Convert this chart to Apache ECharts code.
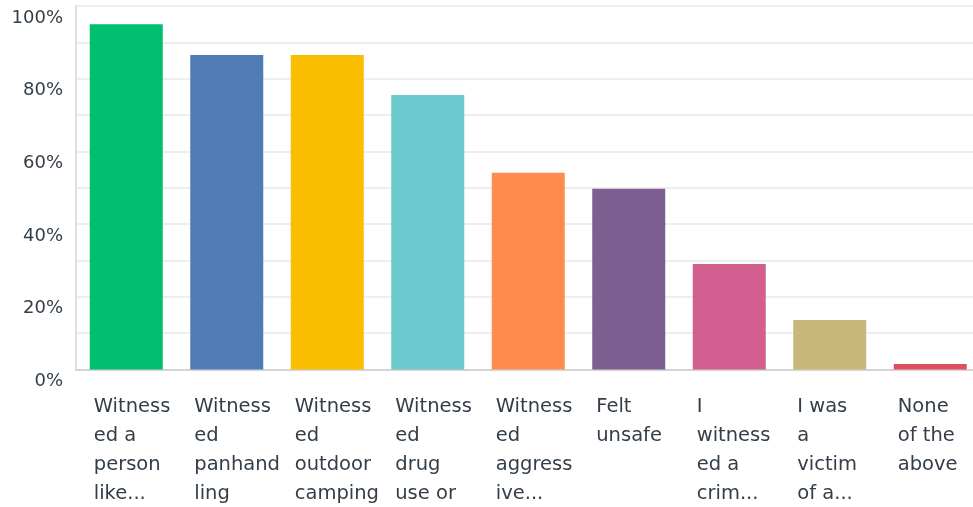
<!DOCTYPE html>
<html>
<head>
<meta charset="utf-8">
<script src="https://cdn.jsdelivr.net/npm/echarts@6/dist/echarts.min.js"></script>
<style>
html,body{margin:0;padding:0;background:#fff;}
#chart{width:973px;height:507px;}
</style>
</head>
<body>
<div id="chart"></div>
<script>
var categories = [
  "Witness\ned a\nperson\nlike...",
  "Witness\ned\npanhand\nling",
  "Witness\ned\noutdoor\ncamping",
  "Witness\ned\ndrug\nuse or",
  "Witness\ned\naggress\nive...",
  "Felt\nunsafe",
  "I\nwitness\ned a\ncrim...",
  "I was\na\nvictim\nof a...",
  "None\nof the\nabove"
];
var values = [95.0, 86.5, 86.5, 75.5, 54.1, 49.7, 29.0, 13.6, 1.5];
var colors = ["#00BF6F", "#507CB6", "#F9BE00", "#6BC8CD", "#FF8B4F", "#7D5E90", "#D25F90", "#C9B67A", "#DF4E5D"];

var FONT = "DejaVu Sans";
var chart = echarts.init(document.getElementById('chart'), null, {renderer: 'canvas'});
chart.setOption({
  animation: false,
  grid: {left: 76, top: 6, width: 904.5, height: 363.5, containLabel: false, outerBoundsMode: 'none', show: false},
  xAxis: {
    type: 'category',
    data: categories,
    axisLine: {show: true, lineStyle: {color: '#d4d4d4', width: 2}},
    axisTick: {show: false},
    splitLine: {show: false},
    splitArea: {show: false},
    axisLabel: {
      interval: 0,
      margin: 23,
      verticalAlign: 'top',
      formatter: function (v) {
        return v.split('\n').map(function (s) { return '{a|' + s + '}'; }).join('\n');
      },
      rich: {
        a: {width: 65, align: 'left', fontFamily: FONT, fontSize: 19.5, lineHeight: 29, color: '#333E48'}
      }
    }
  },
  yAxis: {
    type: 'value',
    min: 0, max: 100, interval: 10,
    axisLine: {show: true, lineStyle: {color: '#e0e0e0', width: 2}},
    axisTick: {show: false},
    splitLine: {show: true, lineStyle: {color: '#eeeeee', width: 2}},
    splitArea: {show: false},
    axisLabel: {
      margin: 13,
      verticalAlign: 'top',
      padding: [3, 0, 0, 0],
      fontFamily: FONT, fontSize: 18, color: '#333E48',
      formatter: function (v) { return v % 20 === 0 ? v + '%' : ''; }
    }
  },
  series: [{
    type: 'bar',
    barWidth: 73,
    data: values.map(function (v, i) { return {value: v, itemStyle: {color: colors[i]}}; })
  }]
});
</script>
</body>
</html>
